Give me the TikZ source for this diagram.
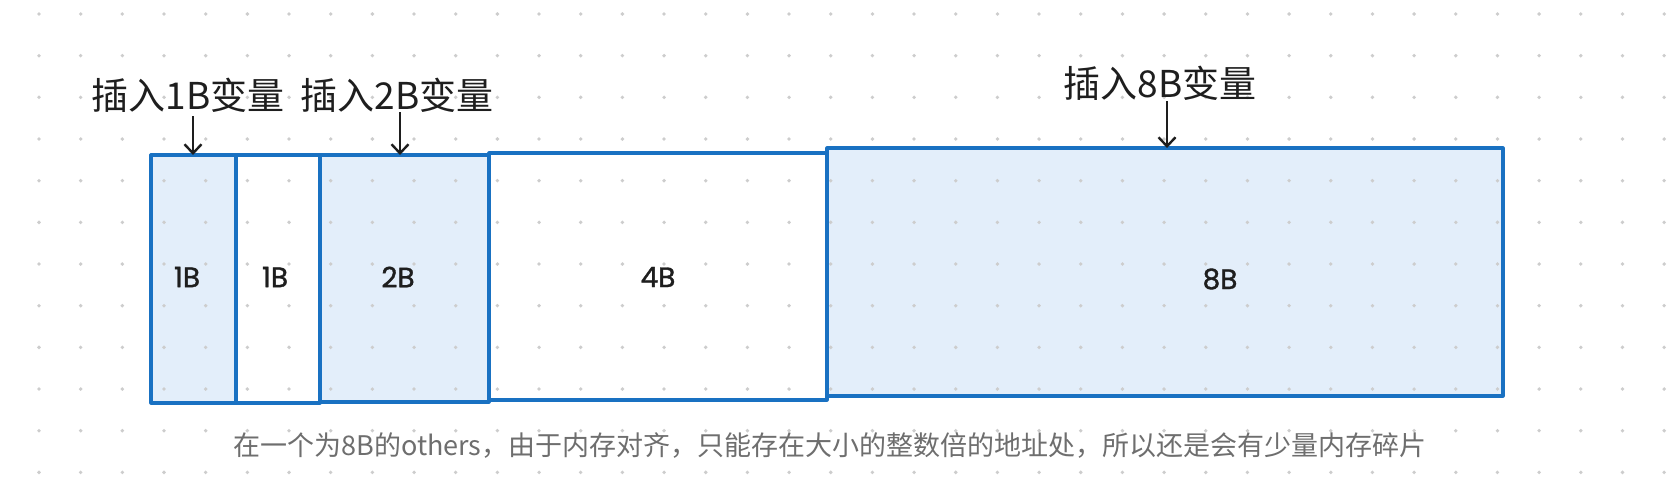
\documentclass[tikz,border=0pt]{standalone}
\usepackage{fontspec}
\newfontfamily\cjk{Noto Sans CJK SC}
\newfontfamily\hand{Poppins}[FakeBold=1.2]
\usetikzlibrary{arrows.meta}
\definecolor{edgeblue}{HTML}{1971C2}
\definecolor{cellfill}{HTML}{E3EEFA}
\definecolor{dotgrey}{HTML}{CDCDCD}
\definecolor{ink}{HTML}{1E1E1E}
\definecolor{capgrey}{HTML}{6E6E6E}
\tikzset{
  cellbox/.style={inner sep=0pt, outer sep=0pt, anchor=north west},
  bluecell/.style={cellbox, fill=cellfill},
  whitecell/.style={cellbox, fill=white},
  celledge/.style={draw=edgeblue, line width=3.2pt, line join=round},
  celltext/.style={font=\hand\fontsize{28}{32}\selectfont, text=ink},
  toplabel/.style={font=\cjk\fontsize{37}{42}\selectfont, text=ink, inner sep=0pt},
  caption/.style={font=\cjk\fontsize{27}{32}\selectfont, text=capgrey, inner sep=0pt},
  pointer/.style={draw=ink, line width=2.4pt, -{Straight Barb[length=9pt,width=17pt,line width=2.4pt]}}
}
\begin{document}
\begin{tikzpicture}[x=1pt,y=-1pt]
\useasboundingbox[fill=white] (0,0) rectangle (1667,501);
% cells (fills)
\node[bluecell, minimum width=85pt, minimum height=248pt] (c1) at (151,155) {};
\node[whitecell, minimum width=84pt, minimum height=248pt] (c2) at (236,155) {};
\node[bluecell, minimum width=169pt, minimum height=247pt] (c3) at (320,155) {};
\node[whitecell, minimum width=338pt, minimum height=247pt] (c4) at (489,153) {};
\node[bluecell, minimum width=676pt, minimum height=248pt] (c5) at (827,148) {};
% dot grid
\foreach \i in {0,...,39}{
  \foreach \j in {0,...,11}{
    \fill[dotgrey] (39+41.67*\i, 14+41.67*\j) circle (1.9pt);
  }
}
% cell outlines
\foreach \c in {c1,c2,c3,c4,c5}{
  \draw[celledge] (\c.north west) rectangle (\c.south east);
}
% cell labels
\node[celltext] (t1) at (187,277) {1B};
\node[celltext] (t2) at (275,277) {1B};
\node[celltext] (t3) at (398,277) {2B};
\node[celltext] (t4) at (658,277) {4B};
\node[celltext] (t5) at (1220,279) {8B};
% top labels
\node[toplabel] (l1) at (188,95) {插入1B变量};
\node[toplabel] (l2) at (397,95) {插入2B变量};
\node[toplabel] (l3) at (1160,83) {插入8B变量};
% arrows
\coordinate (a1) at (193,116);
\coordinate (a2) at (400,112);
\coordinate (a3) at (1167,101);
\draw[pointer] (a1) -- (a1 |- c1.north);
\draw[pointer] (a2) -- (a2 |- c3.north);
\draw[pointer] (a3) -- (a3 |- c5.north);
% caption
\node[caption] (cap) at (830,445) {在一个为8B的others，由于内存对齐，只能存在大小的整数倍的地址处，所以还是会有少量内存碎片};
\end{tikzpicture}
\end{document}
